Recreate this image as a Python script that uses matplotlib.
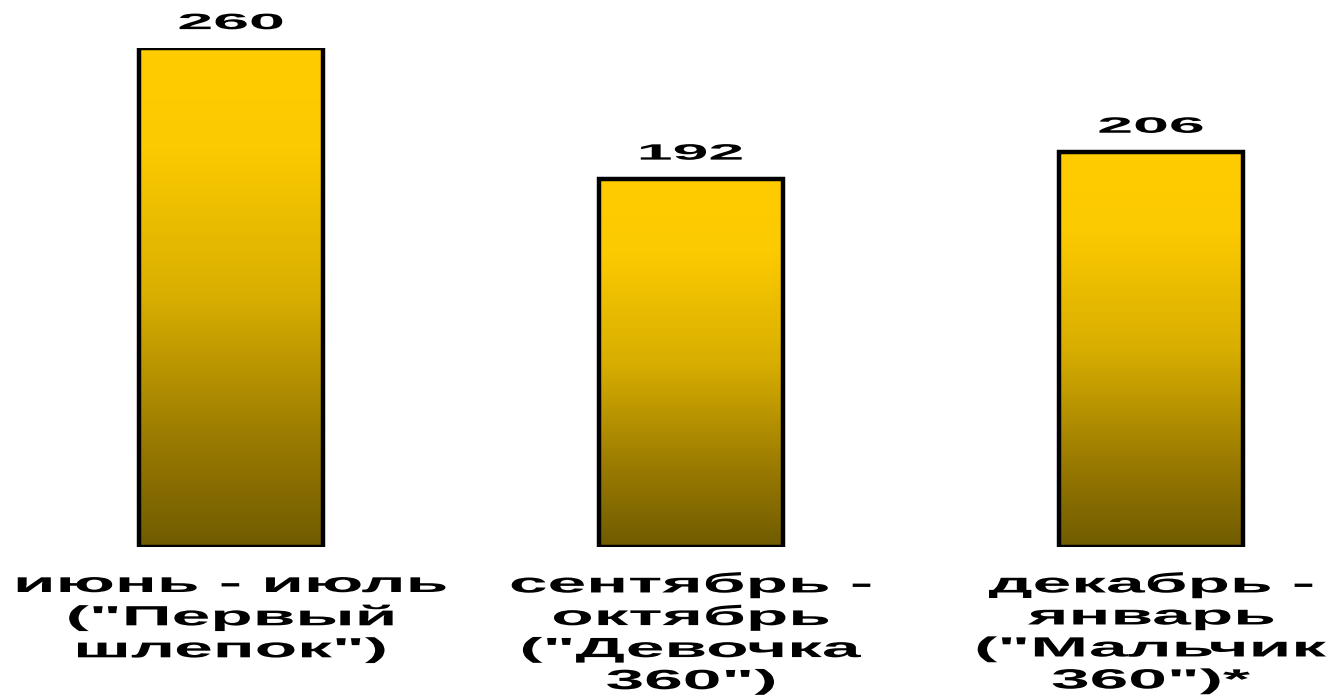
import numpy as np
import matplotlib
matplotlib.use("Agg")
import matplotlib.pyplot as plt
from matplotlib.patheffects import AbstractPathEffect
from matplotlib.transforms import Affine2D
from matplotlib.colors import LinearSegmentedColormap

categories = ['июнь - июль\n("Первый\nшлепок")',
              'сентябрь -\nоктябрь\n("Девочка\n360")',
              'декабрь -\nянварь\n("Мальчик\n360")*']
values = [260, 192, 206]


class Stretch(AbstractPathEffect):
    def __init__(self, sx):
        super().__init__()
        self.sx = sx

    def draw_path(self, renderer, gc, tpath, affine, rgbFace=None):
        ext = tpath.get_extents()
        cx = (ext.x0 + ext.x1) / 2
        a = Affine2D().translate(-cx, 0).scale(self.sx, 1).translate(cx, 0) + affine
        renderer.draw_path(gc, tpath, a, rgbFace)


fig = plt.figure(figsize=(13.38, 6.96), dpi=100)
W, H = 1338, 696
ax = fig.add_axes([0, (H - 547) / H, 1, (547 - 48) / H])
x = np.arange(len(values))
ax.axis('off')

cmap = LinearSegmentedColormap.from_list(
    'g', [(0.0, '#FFCC00'), (0.2, '#FCCA00'), (0.5, '#D8AE00'),
          (0.8, '#977800'), (1.0, '#705B00')])
grad = np.linspace(0, 1, 256).reshape(-1, 1)
width = 0.40
bars = ax.bar(x, values, width=width, facecolor='none', edgecolor='black',
              linewidth=3.2, zorder=3)
for b, v in zip(bars, values):
    x0 = b.get_x()
    ax.imshow(grad, cmap=cmap, aspect='auto', extent=(x0, x0 + width, 0, v),
              origin='upper', zorder=2, interpolation='bilinear')
    ax.annotate(str(v), xy=(x0 + width / 2, v), xytext=(0, 10),
                textcoords='offset points', ha='center', va='bottom',
                fontsize=16, fontweight='bold', family='Liberation Sans',
                annotation_clip=False, path_effects=[Stretch(2.9)])

ax.set_xlim(-231 / 460, (1338 - 231) / 460)
ax.set_ylim(0, max(values))

for xi, lab in zip(x, categories):
    ax.annotate(lab, xy=(xi, 0), xycoords='data', xytext=(0, -18),
                textcoords='offset points', ha='center', va='top',
                fontsize=20, fontweight='bold', family='Liberation Sans',
                linespacing=1.3, annotation_clip=False,
                path_effects=[Stretch(2.5)])

fig.savefig('out.png', dpi=100)
